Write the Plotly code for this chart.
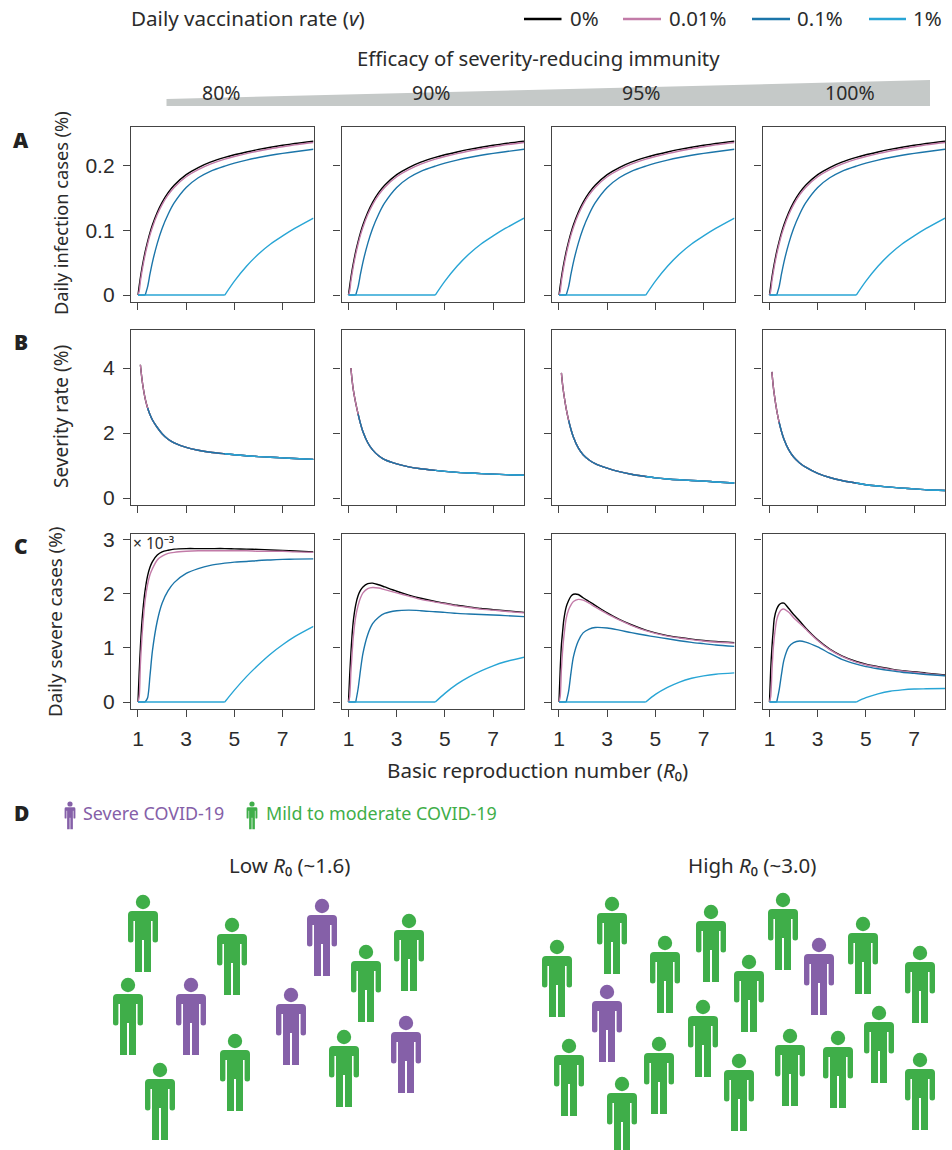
import plotly.graph_objects as go

R0 = [1.0,1.05,1.1,1.15,1.2,1.3,1.4,1.5,1.6,1.8,2.0,2.25,2.5,3.0,3.5,4.0,4.6,5.0,5.5,6.0,6.5,7.0,7.5,8.28]
R0_SEV = R0[2:]
ticks_x = [1,3,5,7]
COLORS = {"0%":"#000000","0.01%":"#C27BA8","0.1%":"#1B75A9","1%":"#28A5D5"}
efficacy = ["80%","90%","95%","100%"]

inf_0   = [0,.0142,.027,.0385,.049,.0674,.0829,.0967,.1086,.1279,.1434,.1584,.1698,.1863,.1973,.2056,.213,.217,.2213,.2253,.2287,.2317,.2344,.238]
inf_001 = [0,.006,.021,.033,.044,.063,.079,.093,.105,.1245,.140,.155,.1665,.183,.194,.2025,.2102,.2143,.2188,.2228,.2264,.2295,.2323,.236]
inf_01  = [0,0,0,0,0,0,.013,.033,.051,.080,.103,.125,.1425,.1665,.1815,.1915,.1995,.2040,.2088,.2128,.2162,.2192,.2218,.2255]
inf_1   = [0]*16+[0,.0215,.0445,.0635,.079,.0915,.1030,.1190]

sev_80  = [4.1,3.75,3.47,3.05,2.77,2.56,2.4,2.17,1.98,1.81,1.70,1.56,1.47,1.41,1.36,1.33,1.30,1.275,1.255,1.235,1.215,1.19]
sev_90  = [4.0,3.62,3.33,2.92,2.58,2.28,2.04,1.7,1.48,1.3,1.18,1.05,.96,.9,.85,.82,.79,.77,.75,.735,.72,.70]
sev_95  = [3.85,3.48,3.2,2.74,2.39,2.1,1.87,1.54,1.33,1.17,1.06,.92,.81,.73,.66,.62,.585,.56,.54,.52,.495,.46]
sev_100 = [3.88,3.48,3.18,2.7,2.33,2.04,1.81,1.48,1.26,1.08,.95,.76,.63,.54,.46,.41,.37,.335,.305,.28,.255,.23]

sc_80 = [
 [0,.55,1.02,1.4,1.68,2.08,2.34,2.5,2.6,2.72,2.78,2.81,2.83,2.84,2.84,2.84,2.84,2.835,2.83,2.825,2.815,2.805,2.795,2.78],
 [0,.1,.7,1.1,1.42,1.9,2.18,2.36,2.47,2.63,2.7,2.75,2.77,2.79,2.8,2.8,2.8,2.8,2.8,2.79,2.79,2.79,2.78,2.77],
 [0,0,0,0,0,0,.08,.5,.95,1.5,1.83,2.06,2.21,2.38,2.47,2.53,2.57,2.59,2.6,2.62,2.63,2.64,2.645,2.65],
 [0]*16+[0,.22,.47,.69,.89,1.06,1.21,1.40],
]
sc_90 = [
 [0,.5,.9,1.25,1.5,1.8,1.97,2.07,2.13,2.19,2.2,2.17,2.13,2.05,1.98,1.92,1.86,1.83,1.79,1.76,1.73,1.71,1.69,1.66],
 [0,.1,.55,.9,1.2,1.58,1.79,1.93,2.02,2.1,2.12,2.11,2.08,2.02,1.96,1.9,1.85,1.82,1.78,1.75,1.72,1.7,1.68,1.65],
 [0,0,0,0,0,0,.25,.6,.9,1.25,1.45,1.57,1.64,1.69,1.7,1.69,1.67,1.66,1.64,1.63,1.62,1.61,1.6,1.58],
 [0]*16+[0,.16,.33,.465,.575,.67,.745,.83],
]
sc_95 = [
 [0,.6,1.05,1.3,1.52,1.76,1.88,1.96,1.995,1.99,1.93,1.86,1.79,1.65,1.53,1.43,1.33,1.28,1.23,1.195,1.165,1.14,1.12,1.10],
 [0,.1,.6,.95,1.2,1.55,1.71,1.8,1.86,1.9,1.885,1.83,1.76,1.63,1.52,1.42,1.32,1.27,1.22,1.185,1.155,1.13,1.11,1.09],
 [0,0,0,0,0,0,.2,.55,.84,1.13,1.28,1.35,1.38,1.37,1.33,1.285,1.235,1.205,1.17,1.135,1.105,1.08,1.055,1.03],
 [0]*16+[0,.14,.27,.37,.44,.485,.515,.54],
]
sc_100 = [
 [0,.6,1.0,1.3,1.55,1.72,1.8,1.83,1.83,1.73,1.62,1.5,1.37,1.15,.98,.855,.75,.70,.655,.615,.58,.56,.535,.50],
 [0,.1,.55,.95,1.2,1.52,1.65,1.71,1.72,1.66,1.56,1.46,1.35,1.14,.97,.845,.74,.69,.645,.605,.575,.55,.525,.49],
 [0,0,0,0,0,0,.22,.52,.78,1.02,1.10,1.13,1.11,1.02,.90,.79,.70,.655,.615,.58,.55,.53,.51,.485],
 [0]*16+[0,.08,.15,.2,.225,.24,.245,.25],
]

# pictogram positions (head centres on the page scale)
low_x   = [143,232,322,409,366,128,191,291,235,344,406,160]
low_y   = [902,925,906,921,952,985,985,995,1041,1037,1023,1070]
low_sev = [0,0,1,0,0,0,1,1,0,0,1,0]
high_x  = [557,612,665,711,783,819,863,920,749,607,703,879,569,659,790,838,739,920,622]
high_y  = [947,904,943,912,900,945,924,953,962,992,1007,1013,1046,1044,1036,1038,1061,1060,1084]
high_sev= [0,0,0,0,0,1,0,0,0,1,0,0,0,0,0,0,0,0,0]
GREEN="#3FAE49"; PURPLE="#8560A8"

W,H=952,1150
COLS=[(131,313.5),(341.5,524),(552,734.5),(762.5,945)]
ROWS=[(127,302),(330,505),(534,708.5)]
XR=[0.71,8.28]
YR=[[-0.0108,0.26],[-0.215,5.17],[-0.12,3.11]]
YT=[[0,.1,.2],[0,2,4],[0,1,2,3]]
YTT=[["0","0.1","0.2"],["0","2","4"],["0","1","2","3"]]
AX="#444444"; TXT="#2b2b2b"
SANS="Noto Sans"; HELV="Liberation Sans"

fig=go.Figure()
layout={}
sevs=[sev_80,sev_90,sev_95,sev_100]
scs=[sc_80,sc_90,sc_95,sc_100]
names=list(COLORS)

def add_curve(xx,yy,col,sfx):
    last=max((j for j,v in enumerate(yy) if v==0),default=0)
    common=dict(mode="lines",xaxis="x"+sfx,yaxis="y"+sfx,showlegend=False,hoverinfo="skip")
    if last>0:
        fig.add_trace(go.Scatter(x=xx[:last+1],y=yy[:last+1],line=dict(color=col,width=1.4),**common))
    fig.add_trace(go.Scatter(x=xx[last:],y=yy[last:],line=dict(color=col,width=1.4,shape="spline",smoothing=0.8),**common))

k=0
for r,(t,b) in enumerate(ROWS):
    for c,(l,rr) in enumerate(COLS):
        k+=1
        sfx="" if k==1 else str(k)
        layout["xaxis"+sfx]=dict(domain=[l/W,rr/W],range=XR,anchor="y"+sfx,tickvals=ticks_x,
            ticktext=[str(v) for v in ticks_x],showticklabels=(r==2),
            ticks="outside",ticklen=7,tickwidth=1.2,tickcolor=AX,showline=True,linecolor=AX,linewidth=1.3,mirror=True,
            showgrid=False,zeroline=False,tickfont=dict(family=HELV,size=21,color=TXT),ticklabelstandoff=4)
        layout["yaxis"+sfx]=dict(domain=[1-b/H,1-t/H],range=YR[r],anchor="x"+sfx,tickvals=YT[r],
            ticktext=YTT[r],showticklabels=(c==0),
            ticks="outside",ticklen=7,tickwidth=1.2,tickcolor=AX,showline=True,linecolor=AX,linewidth=1.3,mirror=True,
            showgrid=False,zeroline=False,tickfont=dict(family=HELV,size=21,color=TXT),ticklabelstandoff=4)
        if r==0:
            series=[(R0,inf_0),(R0,inf_001),(R0,inf_01),(R0,inf_1)]
        elif r==1:
            sv=sevs[c]
            series=[(R0_SEV,sv),(R0_SEV,sv),(R0_SEV[4:],sv[4:]),(R0_SEV[14:],sv[14:])]
        else:
            series=[(R0,s) for s in scs[c]]
        for i,(xx,yy) in enumerate(series):
            add_curve(xx,yy,COLORS[names[i]],sfx)

# page-scale overlay axis for the pictograms, wedge and labels
layout["xaxis13"]=dict(domain=[0,1],range=[0,W],visible=False,anchor="y13",fixedrange=True)
layout["yaxis13"]=dict(domain=[0,1],range=[H,0],visible=False,anchor="x13",fixedrange=True)

shapes=[]
def P(x,y): return f"{x:.2f},{y:.2f}"
def body(cx,cy,s,col):
    f=lambda dx,dy:(cx+dx*s,cy+dy*s)
    pts=[]
    pr=lambda c,dx,dy:pts.append(c+P(*f(dx,dy)))
    pr("M",-11,9)
    pr("L",11,9)
    pts.append("Q"+P(*f(15,9))+" "+P(*f(15,13)))
    pr("L",15,38)
    pts.append("Q"+P(*f(15,40.5))+" "+P(*f(12.2,40.5)))
    pts.append("Q"+P(*f(9.6,40.5))+" "+P(*f(9.6,38)))
    pr("L",9.6,19)
    pr("L",8,19)
    pr("L",8,70)
    pr("L",1,70)
    pr("L",1,38)
    pr("L",-1,38)
    pr("L",-1,70)
    pr("L",-8,70)
    pr("L",-8,19)
    pr("L",-9.6,19)
    pr("L",-9.6,38)
    pts.append("Q"+P(*f(-9.6,40.5))+" "+P(*f(-12.2,40.5)))
    pts.append("Q"+P(*f(-15,40.5))+" "+P(*f(-15,38)))
    pr("L",-15,13)
    pts.append("Q"+P(*f(-15,9))+" "+P(*f(-11,9)))
    pts.append("Z")
    shapes.append(dict(type="path",path=" ".join(pts),xref="x13",yref="y13",fillcolor=col,line=dict(width=0),layer="above"))

def people(xs,ys,sv,s=1.0):
    for col,flag in ((GREEN,0),(PURPLE,1)):
        hx=[x for x,q in zip(xs,sv) if q==flag]
        hy=[y for y,q in zip(ys,sv) if q==flag]
        for x,y in zip(hx,hy): body(x,y,s,col)
        fig.add_trace(go.Scatter(x=hx,y=hy,mode="markers",xaxis="x13",yaxis="y13",showlegend=False,hoverinfo="skip",
            marker=dict(color=col,size=14.4*s,line=dict(width=0))))
people(low_x,low_y,low_sev)
people(high_x,high_y,high_sev)
people([70,252],[804,804],[1,0],0.36)

# wedge
shapes.append(dict(type="path",path="M166.5,99 L930,80 L930,106 L166.5,106 Z",xref="x13",yref="y13",fillcolor="#C5C9C8",line=dict(width=0),layer="below"))
# legend samples
leg_xs=[(524,561.5),(623,661),(752,790),(869,906)]
for (a,b),n in zip(leg_xs,names):
    shapes.append(dict(type="line",x0=a,x1=b,y0=19,y1=19,xref="x13",yref="y13",line=dict(color=COLORS[n],width=2.4)))

ann=[]
def T(x,y,s,size=18,anchor="left",color=TXT,family=SANS,angle=0,weight=None):
    f=dict(family=family,size=size,color=color)
    if weight: f["weight"]=weight
    yy=y-1 if angle==0 else y
    ann.append(dict(x=x,y=yy,xref="x13",yref="y13",text=s,showarrow=False,xanchor=anchor,yanchor="middle",font=f,textangle=angle,borderpad=0))
T(130,19,"Daily vaccination rate (<i>v</i>)",20.6)
for x,n in zip([569,668,796,912],names): T(x,19,n,20.4)
T(538,59,"Efficacy of severity-reducing immunity",20.3,"center")
for x,n in zip([221,431,641,850],efficacy): T(x,93,n,19.5,"center")
T(21,141,"A",21,"center",family="Open Sans",weight=800,color="#222")
T(21,343,"B",21,"center",family="Open Sans",weight=800,color="#222")
T(21,547,"C",21,"center",family="Open Sans",weight=800,color="#222")
T(21,814,"D",21,"center",family="Open Sans",weight=800,color="#222")
T(61,213,"Daily infection cases (%)",18.2,"center",angle=-90)
T(61,417,"Severity rate (%)",19,"center",angle=-90)
T(55,622,"Daily severe cases (%)",18.8,"center",angle=-90)
T(537.5,771,"Basic reproduction number (<i>R</i>₀)",20.6,"center")
T(132,544,"× 10⁻³",15.5,"left",family=SANS)
T(82,814,"Severe COVID-19",17.9,"left",color=PURPLE)
T(265,814,"Mild to moderate COVID-19",17.9,"left",color=GREEN)
T(289.5,866,"Low <i>R</i>₀ (~1.6)",20.5,"center")
T(752,866,"High <i>R</i>₀ (~3.0)",20.5,"center")

layout.update(width=W,height=H,margin=dict(l=0,r=0,t=0,b=0,pad=0,autoexpand=False),paper_bgcolor="white",plot_bgcolor="rgba(0,0,0,0)",
    shapes=shapes,annotations=ann,showlegend=False)
fig.update_layout(**layout)
fig.write_html("out.html",config=dict(displayModeBar=False),post_script="document.body.style.margin='0';")
